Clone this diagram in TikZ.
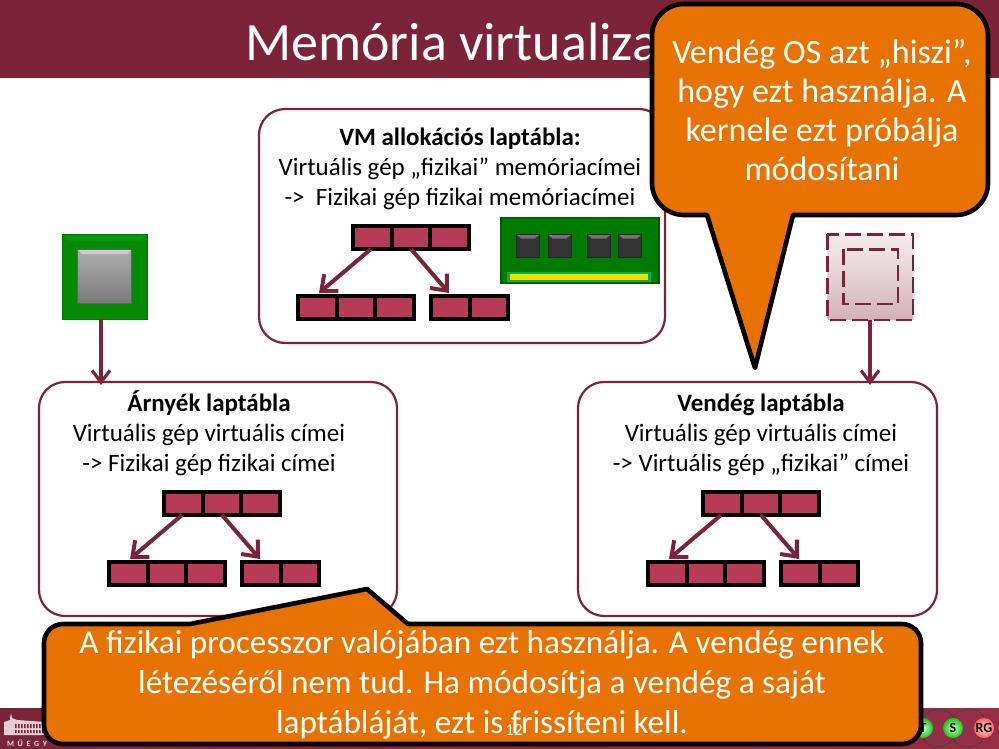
\documentclass[tikz,border=0pt]{standalone}
\usepackage{fontspec}
\setmainfont{Carlito}
\usetikzlibrary{arrows.meta,calc,shapes.geometric}
\definecolor{bme}{HTML}{7B2439}
\definecolor{cellred}{HTML}{B73A57}
\definecolor{callout}{HTML}{E87200}
\definecolor{ramgreen}{HTML}{007A00}
\definecolor{ramdark}{HTML}{005F00}
\definecolor{chipgreen}{HTML}{048A04}
\definecolor{pinedge}{HTML}{00B050}
\definecolor{pinyellow}{HTML}{F0DC00}
\newcommand{\fs}[2]{\fontsize{#1}{#2}\selectfont}
\tikzset{
  x=1pt,y=-1pt,
  band/.style={fill=bme,draw=none},
  infobox/.style={draw=bme,line width=2.2pt,fill=white,rounded corners=26pt},
  boxtext/.style={align=center,text=black,inner sep=0pt},
  cell/.style={fill=cellred,draw=black,line width=4pt,minimum height=23pt,minimum width=38.67pt,inner sep=0pt,outer sep=0pt,rectangle},
  tablearrow/.style={draw=bme,line width=4pt,-{Straight Barb[length=13pt,width=22pt,line width=4pt]}},
  linkarrow/.style={draw=bme,line width=3.4pt,-{Straight Barb[length=12pt,width=18pt,line width=3.2pt]}},
  bubble/.style={fill=callout,draw=black,line width=4.6pt,line join=round},
  bubbletext/.style={align=center,text=white,inner sep=0pt},
  dashbox/.style={draw=bme,line width=2.4pt,dash pattern=on 16pt off 6pt},
  ramchip/.style={fill=black!80,draw=black!85,line width=.6pt},
  net/.style={draw=black!75,line width=.6pt,-{Stealth[length=4pt,width=3pt]}},
  netlabel/.style={text=black!70,inner sep=0pt,font=\fs{6}{7}},
  place/.style={circle,minimum size=20pt,inner sep=0pt,draw=none,font=\fs{14}{14}\bfseries,text=black}
}
% #1 name, #2 x, #3 y of the top-left corner of the top row
\newcommand{\pagetree}[3]{%
  \node[cell,anchor=north west] (#1t1) at (#2+2,#3+2) {};
  \node[cell,anchor=west] (#1t2) at (#1t1.east) {};
  \node[cell,anchor=west] (#1t3) at (#1t2.east) {};
  \node[cell,anchor=north west] (#1l1) at (#2-53,#3+72) {};
  \node[cell,anchor=west] (#1l2) at (#1l1.east) {};
  \node[cell,anchor=west] (#1l3) at (#1l2.east) {};
  \node[cell,anchor=north west] (#1r1) at (#2+80,#3+72) {};
  \node[cell,anchor=west] (#1r2) at (#1r1.east) {};
  \coordinate (#1a) at (#2+20,#3+25);
  \coordinate (#1b) at (#2+60,#3+25);
  \coordinate (#1c) at (#2-32,#3+69);
  \coordinate (#1d) at (#2+98,#3+69);
  \draw[tablearrow] (#1a) -- (#1c);
  \draw[tablearrow] (#1b) -- (#1d);
}
\begin{document}
\begin{tikzpicture}
\useasboundingbox (0,0) rectangle (999,749);
\fill[white] (0,0) rectangle (999,749);
% bands
\path[band] (0,0) rectangle (999,78);
\shade[left color=bme,right color=bme!55!cellred] (0,708) rectangle (999,749);
\node[anchor=west,text=white,inner sep=0pt,font=\fs{54}{56}] (title) at (245,42) {Memória virtualiza};
% logo
\fill[white!78!bme] (4,735) -- (4,722) -- (10,720) -- (10,718) -- (11,713) -- (12,718) -- (17,720) -- (45,722) -- (45,735) -- cycle;
\foreach \i in {0,...,9}{\fill[bme] (15+\i*3,724) rectangle (16.6+\i*3,728) (15+\i*3,730) rectangle (16.6+\i*3,733);}
\node[anchor=center,text=white!85!bme,inner sep=0pt,font=\fs{8}{9}\bfseries] (logotext) at (27,743) {M\ \ Ű\ \ E\ \ G\ \ Y};
% petri-net icons
\node[place,inner color=green!20!white,outer color=green!75!black!90] (pt) at (923,728) {T};
\node[place,inner color=green!20!white,outer color=green!75!black!90] (ps) at (953,728) {S};
\node[place,inner color=red!20!white,outer color=red!60!white] (prg) at (984,728) {RG};
\draw[net] (pt.north) to[out=60,in=120,looseness=1.1] node[netlabel,below=1pt] {λ} (ps.north);
\draw[net] (ps.north) to[out=60,in=120,looseness=1.1] node[netlabel,below=1pt] {λ} (prg.north);
\draw[net] (ps.south) to[out=240,in=300,looseness=1.1] node[netlabel,above=1pt] {μ} (pt.south);
\draw[net] (prg.south) to[out=240,in=300,looseness=1.1] node[netlabel,above=1pt] {μ} (ps.south);
% info boxes
\draw[infobox] (259,109) rectangle (665,343);
\draw[infobox] (39,382) rectangle (397,616);
\draw[infobox] (578,382) rectangle (937,616);
\coordinate (shadowtop) at (101,385);
\coordinate (guesttop) at (870,385);
\node[boxtext,font=\fs{25}{30}] (vmtext) at (460,169) {\textbf{VM allokációs laptábla:}\\Virtuális gép „fizikai” memóriacímei\\-> \ Fizikai gép fizikai memóriacímei};
\node[boxtext,font=\fs{25}{30}] (shadowtext) at (209,433) {\textbf{Árnyék laptábla}\\Virtuális gép virtuális címei\\-> Fizikai gép fizikai címei};
\node[boxtext,font=\fs{25}{30}] (guesttext) at (761,435) {\textbf{Vendég laptábla}\\Virtuális gép virtuális címei\\-> Virtuális gép „fizikai” címei};
% page tables
\pagetree{m}{351}{224}
\pagetree{s}{162}{490}
\pagetree{g}{701}{490}
% CPU chip
\node[rectangle,minimum size=85pt,inner sep=0pt,fill=chipgreen,draw=green!45!black,line width=.8pt] (cpu) at (104.5,276.5) {};
\fill[green!60!black] (63,235) -- (147,235) -- (140,241) -- (70,241) -- cycle;
\node[rectangle,minimum size=54pt,inner sep=0pt,top color=black!32,bottom color=black!52,draw=black!62,line width=.8pt] (cpucore) at (cpu.center) {};
\fill[white!80!black] (78,250) -- (131,250) -- (127,254) -- (82,254) -- cycle;
% virtual chip
\node[rectangle,minimum size=85pt,inner sep=0pt,top color=bme!8,bottom color=bme!35,draw=none] (vcpu) at (870,277) {};
\draw[dashbox] (vcpu.north west) rectangle (vcpu.south east);
\node[rectangle,minimum size=54pt,inner sep=0pt] (vcore) at (870.5,276.5) {};
\draw[dashbox] (vcore.north west) rectangle (vcore.south east);
\draw[linkarrow] (cpu.south -| shadowtop) -- (shadowtop);
\draw[linkarrow] (vcpu.south) -- (guesttop);
% RAM
\node[rectangle,anchor=north west,minimum width=158pt,minimum height=65pt,inner sep=0pt,fill=ramgreen,draw=ramdark,line width=2.4pt] (ram) at (500,217) {};
\foreach \n/\cx in {a/528,b/559.5,c/599,d/630}{
  \node[rectangle,minimum size=23pt,inner sep=0pt,ramchip] (chip\n) at (\cx,246) {};
  \fill[black!55] (\cx-11,235) -- (\cx+11,235) -- (\cx+7,238.5) -- (\cx-7,238.5) -- cycle;
}
\node[rectangle,minimum width=141pt,minimum height=8pt,inner sep=0pt,fill=pinyellow,draw=pinedge,line width=2.4pt] (pins) at (579,277) {};
% callouts
\draw[bubble] (684,4) -- (956,4) to[out=0,in=90] (988,36) -- (988,183) to[out=270,in=0] (956,215)
  -- (793,215) -- (755,368) -- (707,215) -- (684,215) to[out=180,in=270] (652,183) -- (652,36) to[out=90,in=180] (684,4) -- cycle;
\draw[bubble] (63,624) -- (190,624) -- (367,589) -- (408,624) -- (902,624) to[out=0,in=90] (921,643) -- (921,725)
  to[out=270,in=0] (902,744) -- (63,744) to[out=180,in=270] (44,725) -- (44,643) to[out=90,in=180] (63,624) -- cycle;
\node[bubbletext,font=\fs{34}{39}] (topnote) at (822,110) {Vendég OS azt „hiszi”,\\hogy ezt használja. A\\kernele ezt próbálja\\módosítani};
\node[bubbletext,font=\fs{33.2}{40}] (bottomnote) at (482,685) {A fizikai processzor valójában ezt használja. A vendég ennek\\létezéséről nem tud. Ha módosítja a vendég a saját\\laptábláját, ezt is frissíteni kell.};
\node[text=white,inner sep=0pt,font=\fs{17}{18}] (pageno) at (514,730) {12};
\end{tikzpicture}
\end{document}
